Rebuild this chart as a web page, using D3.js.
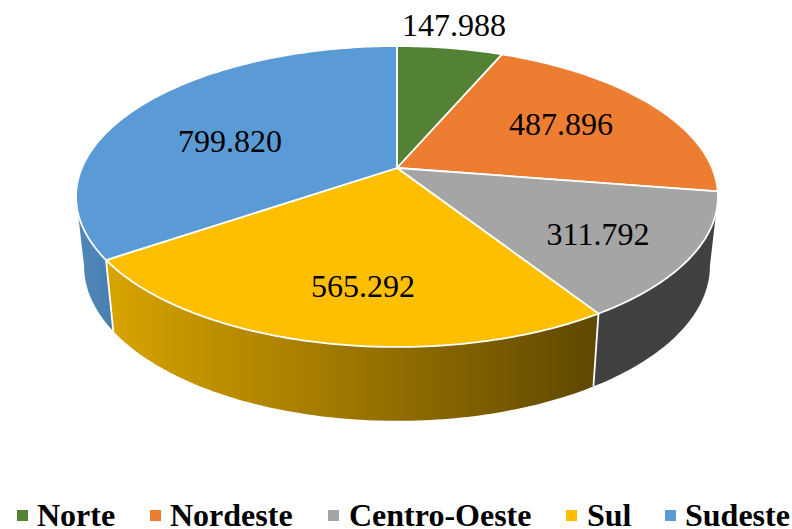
<!DOCTYPE html>
<html>
<head>
<meta charset="utf-8">
<script src="https://cdn.jsdelivr.net/npm/d3@7"></script>
<style>
  html, body { margin: 0; padding: 0; background: #fff; }
  svg { display: block; }
  text { font-family: "Liberation Serif", serif; fill: #000; }
</style>
</head>
<body>
<div id="canvas"></div>
<script>
var categories = ["Norte", "Nordeste", "Centro-Oeste", "Sul", "Sudeste"];
var values = [147988, 487896, 311792, 565292, 799820];
var valueLabels = ["147.988", "487.896", "311.792", "565.292", "799.820"];
var colors = ["#548235", "#ed7d31", "#a5a5a5", "#fdbf00", "#5b9bd5"];
var wallFrom = ["#4a7530", "#c96a2a", "#414141", "#d8a400", "#5088bb"];
var wallTo = ["#4a7530", "#c96a2a", "#414141", "#5f4700", "#4a7fb0"];

var width = 792, height = 529;
var cx = 397, cy = 168;
// perspective of the disc: unit circle -> screen
var dist = 5.28, fx = 1664, fy = 766;
// lower rim of the disc
var lowerX = 0.975, lowerY = 1.03, lowerCy = 236.5;

function topRim(a) {
    var X = Math.sin(a), Y = -Math.cos(a), w = dist - Y;
    return [cx + fx * X / w, cy + fy * Y / w];
}
function bottomRim(a) {
    var p = topRim(a);
    return [cx + (p[0] - cx) * lowerX, lowerCy + (p[1] - cy) * lowerY];
}
var line = d3.line();

var pie = d3.pie().sort(null).startAngle(0).endAngle(2 * Math.PI);
var arcs = pie(values);

// front part of the rim, between the two side tangents
var frontStart = Math.acos(-1 / dist), frontEnd = 2 * Math.PI - frontStart;

var svg = d3.select("#canvas").append("svg")
    .attr("width", width)
    .attr("height", height);
var defs = svg.append("defs");

function samples(a0, a1) {
    var n = Math.max(2, Math.ceil((a1 - a0) * 60));
    return d3.range(n + 1).map(function (i) { return a0 + (a1 - a0) * i / n; });
}

// side walls
arcs.forEach(function (d, i) {
    var a0 = Math.max(d.startAngle, frontStart), a1 = Math.min(d.endAngle, frontEnd);
    if (a1 <= a0) return;
    var angles = samples(a0, a1);
    var pts = angles.map(topRim).concat(angles.slice().reverse().map(bottomRim));
    var xr = d3.extent(pts, function (p) { return p[0]; });
    var grad = defs.append("linearGradient")
        .attr("id", "wall" + i)
        .attr("gradientUnits", "userSpaceOnUse")
        .attr("x1", xr[0]).attr("x2", xr[1])
        .attr("y1", 0).attr("y2", 0);
    grad.append("stop").attr("offset", 0).attr("stop-color", wallFrom[i]);
    grad.append("stop").attr("offset", 1).attr("stop-color", wallTo[i]);
    svg.append("path")
        .attr("d", line(pts) + "Z")
        .attr("fill", "url(#wall" + i + ")")
        .attr("stroke", "none");
});

// white seams on the wall where slices meet
arcs.forEach(function (d) {
    if (d.startAngle < frontStart || d.startAngle > frontEnd) return;
    svg.append("path")
        .attr("d", line([topRim(d.startAngle), bottomRim(d.startAngle)]))
        .attr("stroke", "#fff")
        .attr("stroke-width", 1.8)
        .attr("fill", "none");
});

// top faces
arcs.forEach(function (d, i) {
    var pts = [[cx, cy]].concat(samples(d.startAngle, d.endAngle).map(topRim));
    svg.append("path")
        .attr("d", line(pts) + "Z")
        .attr("fill", colors[i])
        .attr("stroke", "#fff")
        .attr("stroke-width", 1.8)
        .attr("stroke-linejoin", "round");
});

// value labels, placed by hand like in the original
var labelX = [454, 561, 598, 363, 230];
var labelY = [36, 135, 245, 297, 152];
valueLabels.forEach(function (t, i) {
    svg.append("text")
        .attr("x", labelX[i])
        .attr("y", labelY[i])
        .attr("text-anchor", "middle")
        .attr("font-size", 32)
        .text(t);
});

// legend
var legendX = [17, 150, 328, 566, 665];
var legendTextX = [37, 170, 349, 587, 685];
categories.forEach(function (c, i) {
    svg.append("rect")
        .attr("x", legendX[i])
        .attr("y", 510)
        .attr("width", 11)
        .attr("height", 11)
        .attr("fill", colors[i]);
    svg.append("text")
        .attr("x", legendTextX[i])
        .attr("y", 526)
        .attr("font-size", 32)
        .attr("font-weight", "bold")
        .text(c);
});
</script>
</body>
</html>
